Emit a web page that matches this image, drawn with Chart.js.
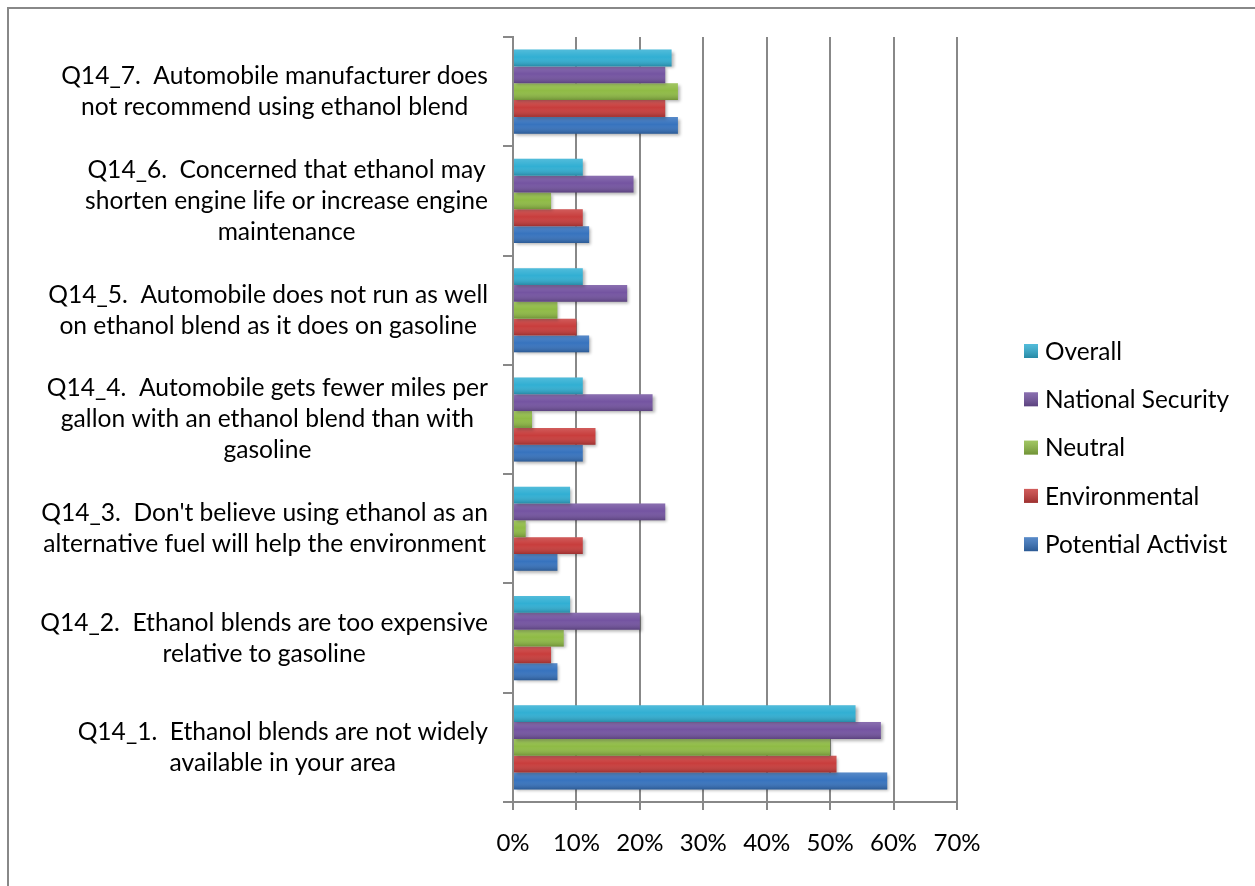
<!DOCTYPE html>
<html>
<head>
<meta charset="utf-8">
<title>Reasons for not using ethanol blends</title>
<script src="https://cdn.jsdelivr.net/npm/chart.js@4.4.1/dist/chart.umd.min.js"></script>
<style>
    html, body { margin: 0; padding: 0; background: #fff; }
    canvas { display: block; }
</style>
</head>
<body>
<canvas id="reasons" width="1255" height="886"></canvas>
<script>
// question text, already wrapped the way it is shown next to the bars
const questions = [
    ['Q14_7.  Automobile manufacturer does', 'not recommend using ethanol blend'],
    ['Q14_6.  Concerned that ethanol may', 'shorten engine life or increase engine', 'maintenance'],
    ['Q14_5.  Automobile does not run as well', 'on ethanol blend as it does on gasoline'],
    ['Q14_4.  Automobile gets fewer miles per', 'gallon with an ethanol blend than with', 'gasoline'],
    ['Q14_3.  Don\'t believe using ethanol as an', 'alternative fuel will help the environment'],
    ['Q14_2.  Ethanol blends are too expensive', 'relative to gasoline'],
    ['Q14_1.  Ethanol blends are not widely', 'available in your area']
];

// percent of each segment, same order as questions
const overall = [25, 11, 11, 11, 9, 9, 54];
const nationalSecurity = [24, 19, 18, 22, 24, 20, 58];
const neutral = [26, 6, 7, 3, 2, 8, 50];
const environmental = [24, 11, 10, 13, 11, 6, 51];
const potentialActivist = [26, 12, 12, 11, 7, 7, 59];

const segmentNames = ['Overall', 'National Security', 'Neutral', 'Environmental', 'Potential Activist'];
const segmentColors = ['#31afd3', '#7454a1', '#8fbb45', '#c83d3c', '#3773be'];
const percentTicks = ['0%', '10%', '20%', '30%', '40%', '50%', '60%', '70%'];

const FONT = 'Lato, "Open Sans", sans-serif';
const AXIS_GRAY = '#888888';

// outer frame of the chart object (only top and left edges show)
const frame = {
    id: 'frame',
    beforeDraw(chart) {
        const ctx = chart.ctx;
        ctx.save();
        ctx.fillStyle = '#fff';
        ctx.fillRect(0, 0, chart.width, chart.height);
        ctx.strokeStyle = AXIS_GRAY;
        ctx.lineWidth = 2;
        ctx.beginPath();
        ctx.moveTo(8, chart.height);
        ctx.lineTo(8, 8);
        ctx.lineTo(chart.width, 8);
        ctx.stroke();
        ctx.restore();
    }
};

// drop shadow under bars plus a light-to-dark sheen on top of them
const barShade = {
    id: 'barShade',
    beforeDatasetsDraw(chart) {
        const ctx = chart.ctx;
        ctx.save();
        ctx.shadowColor = 'rgba(0, 0, 0, 0.3)';
        ctx.shadowBlur = 3;
        ctx.shadowOffsetX = 2;
        ctx.shadowOffsetY = 2;
    },
    afterDatasetsDraw(chart) {
        const ctx = chart.ctx;
        ctx.restore();
        ctx.save();
        chart.data.datasets.forEach((ds, i) => {
            chart.getDatasetMeta(i).data.forEach(bar => {
                const {x, y, base, height} = bar.getProps(['x', 'y', 'base', 'height'], true);
                const top = y - height / 2;
                const g = ctx.createLinearGradient(0, top, 0, top + height);
                g.addColorStop(0, 'rgba(255, 255, 255, 0.16)');
                g.addColorStop(0.45, 'rgba(255, 255, 255, 0)');
                g.addColorStop(1, 'rgba(0, 0, 0, 0.22)');
                ctx.fillStyle = g;
                ctx.fillRect(base, top, x - base, height);
            });
        });
        ctx.restore();
    }
};

// category labels: each block is centred on its own widest line, right edge next to the axis
const questionLabels = {
    id: 'questionLabels',
    afterDraw(chart, args, opts) {
        const ctx = chart.ctx;
        const y = chart.scales.y;
        ctx.save();
        ctx.font = opts.size + 'px ' + FONT;
        ctx.fillStyle = '#000';
        ctx.textAlign = 'center';
        ctx.textBaseline = 'middle';
        const right = y.right - opts.gap;
        chart.data.labels.forEach((lines, i) => {
            const widest = Math.max(...lines.map(l => ctx.measureText(l).width));
            const cx = right - widest / 2;
            const cy = y.getPixelForValue(i);
            lines.forEach((line, k) => {
                ctx.fillText(line, cx, cy + (k - (lines.length - 1) / 2) * opts.lineHeight);
            });
        });
        ctx.restore();
    }
};

// legend to the right of the plot
const sideLegend = {
    id: 'sideLegend',
    afterDraw(chart, args, opts) {
        const ctx = chart.ctx;
        const area = chart.chartArea;
        ctx.save();
        ctx.font = opts.size + 'px ' + FONT;
        ctx.textAlign = 'left';
        ctx.textBaseline = 'middle';
        chart.data.datasets.forEach((ds, i) => {
            const x = area.right + opts.offsetX;
            const cy = area.top + opts.offsetY + i * opts.spacing;
            const s = opts.box;
            ctx.fillStyle = ds.backgroundColor;
            ctx.fillRect(x, cy - s / 2, s, s);
            const g = ctx.createLinearGradient(0, cy - s / 2, 0, cy + s / 2);
            g.addColorStop(0, 'rgba(255, 255, 255, 0.16)');
            g.addColorStop(1, 'rgba(0, 0, 0, 0.22)');
            ctx.fillStyle = g;
            ctx.fillRect(x, cy - s / 2, s, s);
            ctx.fillStyle = '#000';
            ctx.fillText(ds.label, x + s + 7, cy + 1);
        });
        ctx.restore();
    }
};

function buildChart() {
    const series = [overall, nationalSecurity, neutral, environmental, potentialActivist];
    const datasets = series.map((values, i) => ({
        label: segmentNames[i],
        data: values,
        backgroundColor: segmentColors[i],
        borderWidth: 0,
        categoryPercentage: 0.77,
        barPercentage: 1.0
    }));

    const config = {
        type: 'bar',
        data: {
            labels: questions,
            datasets: datasets
        },
        options: {
            indexAxis: 'y',
            responsive: false,
            animation: false,
            layout: {
                padding: {left: 0, top: 37, right: 298, bottom: 0}
            },
            scales: {
                x: {
                    type: 'linear',
                    min: 0,
                    max: 70,
                    ticks: {
                        stepSize: 10,
                        color: '#000',
                        padding: 19,
                        font: {family: FONT, size: 24},
                        callback: (v, i) => percentTicks[i]
                    },
                    grid: {
                        color: AXIS_GRAY,
                        lineWidth: 2,
                        tickLength: 8
                    },
                    border: {color: AXIS_GRAY, width: 2},
                    afterFit: scale => { scale.height = 84; }
                },
                y: {
                    type: 'category',
                    ticks: {display: false},
                    grid: {
                        color: AXIS_GRAY,
                        lineWidth: 2,
                        tickLength: 10,
                        drawOnChartArea: false,
                        offset: true
                    },
                    border: {color: AXIS_GRAY, width: 2, z: 1},
                    afterFit: scale => { scale.width = 513; }
                }
            },
            plugins: {
                legend: {display: false},
                tooltip: {enabled: false},
                questionLabels: {size: 24.6, lineHeight: 31, gap: 25},
                sideLegend: {size: 24.4, box: 14, offsetX: 67, offsetY: 314, spacing: 48.3}
            }
        },
        plugins: [frame, barShade, questionLabels, sideLegend]
    };

    new Chart(document.getElementById('reasons').getContext('2d'), config);
}

document.fonts.load('24px Lato').then(buildChart, buildChart);
</script>
</body>
</html>
